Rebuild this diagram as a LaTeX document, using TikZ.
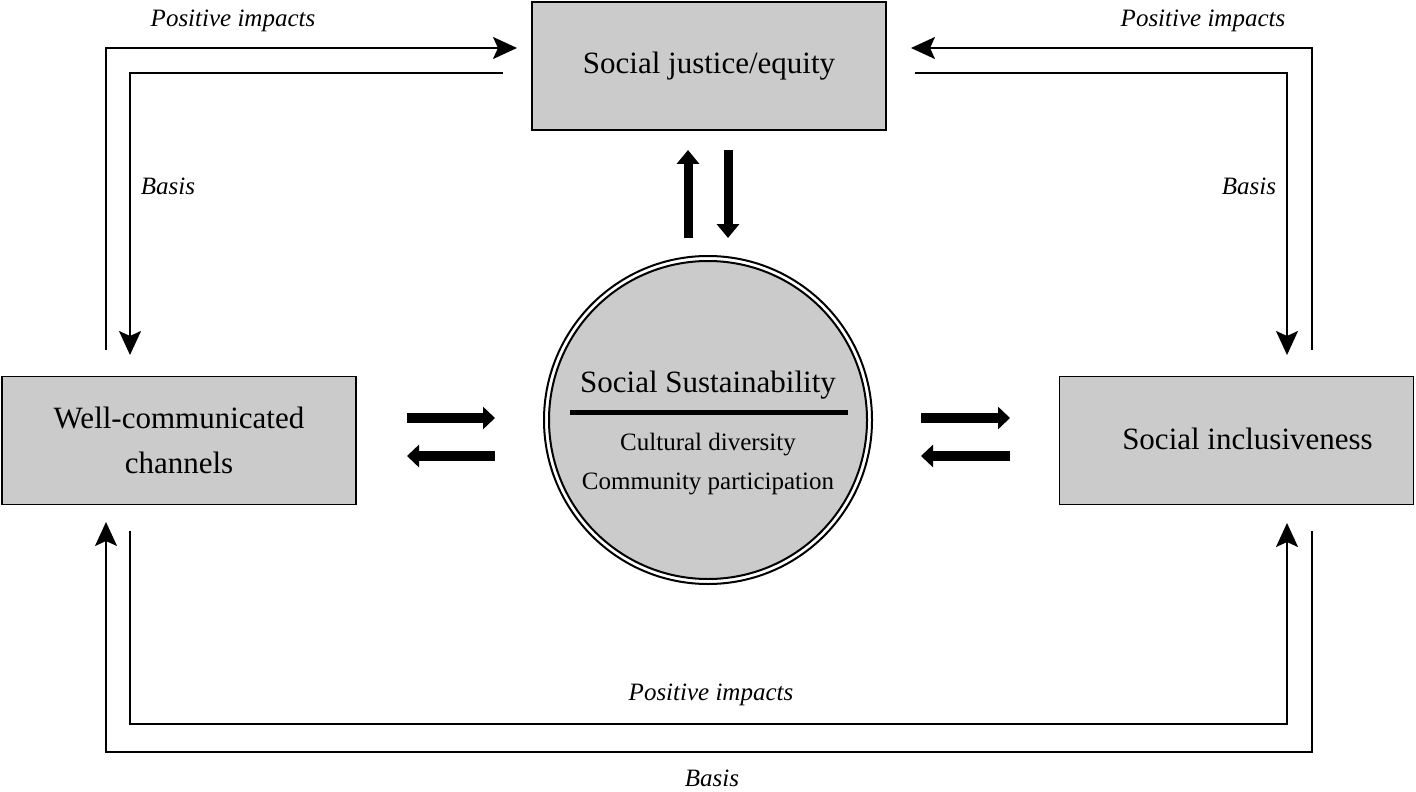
\documentclass[tikz,border=0pt]{standalone}
\usepackage{fontspec}
\setmainfont{Liberation Serif}
\usetikzlibrary{arrows.meta}
\definecolor{boxgray}{RGB}{203,203,203}
\begin{document}
\begin{tikzpicture}[x=0.5pt,y=-0.5pt,
  boxnode/.style={draw, line width=0.8pt, fill=boxgray, minimum width=177pt, minimum height=64pt, inner sep=0pt, align=center, font=\fontsize{15.5}{22.5}\selectfont},
  lbl/.style={font=\fontsize{12.5}{15}\selectfont\itshape, inner sep=0pt},
  thin/.style={line width=1pt, -{Stealth[length=12pt,width=11pt,inset=2.5pt]}},
  blkv/.style={line width=4.5pt, -{Triangle[length=7pt,width=11pt]}},
  blkh/.style={line width=5pt, -{Triangle[length=6pt,width=11pt]}}]
\useasboundingbox (0,0) rectangle (1416,791);
% boxes
\node[boxnode] (top) at (709,66) {Social justice/equity};
\node[boxnode] (left) at (179,440.5) {Well-communicated\\channels};
\node[boxnode] (right) at (1236.5,440.5) {\hspace*{11pt}\raisebox{2pt}{Social inclusiveness}};
% circle
\node[circle, draw, line width=1pt, fill=white, minimum size=164pt, inner sep=0pt] (circ) at (708,420) {};
\draw[line width=1pt, fill=boxgray] (circ.center) circle (79.5pt);
\node[font=\fontsize{15.5}{18}\selectfont, inner sep=0pt] (ctitle) at (708,385) {Social Sustainability};
\coordinate (rl) at (570,412);
\coordinate (rr) at (848,412);
\draw[line width=2.5pt] (rl) -- (rr);
\node[font=\fontsize{12.5}{19.5}\selectfont, align=center, inner sep=0pt] (csub) at (708,464.5) {Cultural diversity\\Community participation};
% block arrows
\coordinate (u1) at (688,238); \coordinate (u2) at (688,150);
\coordinate (d1) at (728,150); \coordinate (d2) at (728,238);
\draw[blkv] (u1) -- (u2);
\draw[blkv] (d1) -- (d2);
\coordinate (h1) at (407,418); \coordinate (h2) at (495,418);
\coordinate (h3) at (495,456); \coordinate (h4) at (407,456);
\coordinate (h5) at (921,418); \coordinate (h6) at (1010,418);
\coordinate (h7) at (1010,456); \coordinate (h8) at (921,456);
\draw[blkh] (h1) -- (h2);
\draw[blkh] (h3) -- (h4);
\draw[blkh] (h5) -- (h6);
\draw[blkh] (h7) -- (h8);
% top-left loop
\coordinate (tl1) at (106,350); \coordinate (tl2) at (517,48);
\coordinate (tl3) at (503,73); \coordinate (tl4) at (130,355);
\draw[thin] (tl1) |- (tl2);
\draw[thin] (tl3) -| (tl4);
% top-right loop
\coordinate (tr1) at (1312,350); \coordinate (tr2) at (911,48);
\coordinate (tr3) at (915,73); \coordinate (tr4) at (1287,355);
\draw[thin] (tr1) |- (tr2);
\draw[thin] (tr3) -| (tr4);
% bottom loop
\coordinate (b1) at (130,531); \coordinate (b2) at (130,724);
\coordinate (b3) at (1287,724); \coordinate (b4) at (1287,523);
\draw[thin] (b1) -- (b2) -- (b3) -- (b4);
\coordinate (b5) at (1312,531); \coordinate (b6) at (1312,752);
\coordinate (b7) at (106,752); \coordinate (b8) at (106,522);
\draw[thin] (b5) -- (b6) -- (b7) -- (b8);
% labels
\node[lbl] (l1) at (233,21) {Positive impacts};
\node[lbl] (l2) at (1203,21) {Positive impacts};
\node[lbl] (l3) at (711,695) {Positive impacts};
\node[lbl] (l4) at (168,186) {Basis};
\node[lbl] (l5) at (1249,186) {Basis};
\node[lbl] (l6) at (712,778) {Basis};
\end{tikzpicture}
\end{document}
